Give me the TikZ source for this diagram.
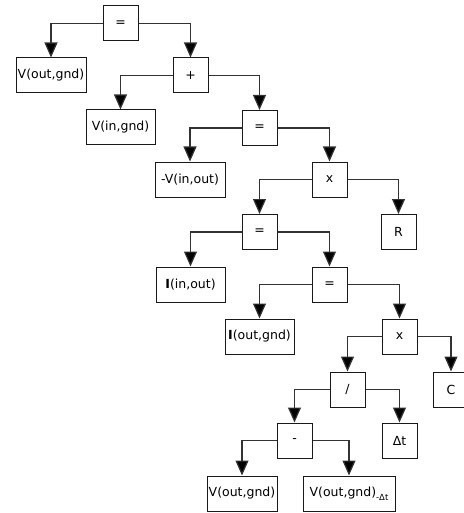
\documentclass[tikz,border=0pt]{standalone}
\usepackage{fontspec}
\setmainfont{DejaVu Sans}
\usetikzlibrary{arrows.meta}
\begin{document}
\begin{tikzpicture}[x=1pt,y=-1pt,
  box/.style={draw=black!90,line width=1pt,minimum height=35pt,inner sep=0pt,font=\fontsize{12.5}{14}\selectfont},
  op/.style={box,minimum width=35pt},
  leaf/.style={box,minimum width=70pt},
  arr/.style={draw=black!80,line width=1.2pt,-{Triangle[width=13pt,length=15pt,fill=black]}}]
\useasboundingbox (0,0) rectangle (463,513);
\node[op] (eq1) at (120.5,23.5) {=};
\node[leaf] (vog1) at (51,75.5) {V(out,gnd)};
\node[op] (plus) at (190.5,75.5) {+};
\node[leaf,minimum width=69pt] (vig) at (120.5,127.5) {V(in,gnd)};
\node[op] (eq2) at (259.5,128) {=};
\node[leaf] (nvio) at (190,179.5) {-V(in,out)};
\node[op] (x1) at (329.5,179.5) {x};
\node[op] (eq3) at (259.5,232) {=};
\node[op] (R) at (398.5,232) {R};
\node[leaf,minimum width=69pt] (iio) at (190.5,284.5) {\textbf{I}(in,out)};
\node[op] (eq4) at (329.5,284.5) {=};
\node[leaf,minimum width=69pt] (iog) at (259.5,336.5) {\textbf{I}(out,gnd)};
\node[op] (x2) at (399.5,336.5) {x};
\node[op] (div) at (347.5,389.5) {/};
\node[op] (C) at (451,389.5) {C};
\node[op] (dt) at (399.5,440.5) {Δt};
\node[op] (minus) at (294.5,440.5) {-};
\node[leaf] (vog2) at (242,493.5) {V(out,gnd)};
\node[leaf,minimum width=92pt] (vogdt) at (349,493.5) {V(out,gnd)\raisebox{-3.5pt}{\fontsize{8.5}{9}\selectfont -Δt}};
\draw[arr] (eq1.west) -| (vog1.north);
\draw[arr] (eq1.east) -| (plus.north);
\draw[arr] (plus.west) -| (vig.north);
\draw[arr] (plus.east) -| (eq2.north);
\draw[arr] (eq2.west) -| (nvio.north);
\draw[arr] (eq2.east) -| (x1.north);
\draw[arr] (x1.west) -| (eq3.north);
\draw[arr] (x1.east) -| (R.north);
\draw[arr] (eq3.west) -| (iio.north);
\draw[arr] (eq3.east) -| (eq4.north);
\draw[arr] (eq4.west) -| (iog.north);
\draw[arr] (eq4.east) -| (x2.north);
\draw[arr] (x2.west) -| (div.north);
\draw[arr] (x2.east) -| (C.north);
\draw[arr] (div.west) -| (minus.north);
\draw[arr] (div.east) -| (dt.north);
\draw[arr] (minus.west) -| (vog2.north);
\draw[arr] (minus.east) -| (vogdt.north);
\end{tikzpicture}
\end{document}
